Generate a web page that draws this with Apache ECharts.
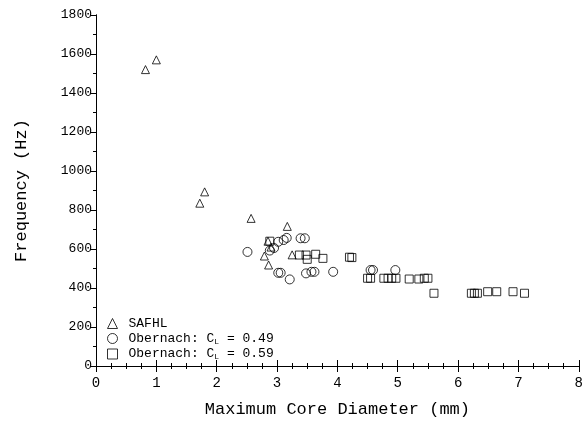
<!DOCTYPE html>
<html><head><meta charset="utf-8">
<script src="https://cdn.jsdelivr.net/npm/echarts@6/dist/echarts.min.js"></script>
<style>html,body{margin:0;padding:0;background:#fff}#c{width:586px;height:431px}</style>
</head><body><div id="c"></div>
<script>
const safhl = [[0.82,1520],[1.0,1570],[1.72,835],[1.8,893],[2.57,757],[2.79,564],[2.86,518],[2.85,640],[2.9,610],[3.17,716],[3.25,570]];
const obern49 = [[2.51,585],[2.88,592],[2.95,605],[3.02,637],[3.11,646],[3.16,657],[3.39,655],[3.46,655],[3.02,478],[3.06,478],[3.21,444],[3.48,475],[3.57,483],[3.62,483],[3.93,483],[4.55,492],[4.59,492],[4.96,492]];
const obern59 = [[2.88,640],[3.37,569],[3.48,569],[3.5,547],[3.64,573],[3.76,552],[4.2,558],[4.24,556],[4.5,450],[4.55,450],[4.77,450],[4.84,450],[4.9,450],[4.97,450],[5.19,446],[5.35,446],[5.44,450],[5.5,450],[5.6,373],[6.22,373],[6.27,373],[6.32,373],[6.49,381],[6.64,381],[6.91,381],[7.1,373]];
const xTitle = 'Maximum Core Diameter (mm)';
const yTitle = 'Frequency (Hz)';
const FONT = 'Liberation Mono';
const chart = echarts.init(document.getElementById('c'));
const sym = {color:'rgba(0,0,0,0)', borderColor:'#000', borderWidth:1};
chart.setOption({
  animation:false,
  textStyle:{fontFamily:FONT, color:'#000'},
  grid:{left:96, right:3, top:15, bottom:65},
  legend:{
    orient:'vertical', left:102, top:312, itemGap:2, itemWidth:10, itemHeight:10,
    itemStyle:{borderWidth:1},
    textStyle:{fontFamily:FONT, fontSize:13, color:'#000', padding:[0,0,0,6],
      rich:{sub:{fontFamily:FONT, fontSize:8, verticalAlign:'bottom', padding:[6,0,0,0], color:'#000'}}},
    formatter:function(n){
      if(n==='SAFHL') return 'SAFHL';
      return n.replace('C_L','C{sub|L}');
    },
    data:['SAFHL','Obernach: C_L = 0.49','Obernach: C_L = 0.59']
  },
  xAxis:[{
    type:'value', min:0, max:8, interval:1,
    axisLine:{lineStyle:{color:'#000',width:1}},
    axisTick:{inside:true, length:6, lineStyle:{color:'#000'}},
    minorTick:{show:true, splitNumber:4, length:3, lineStyle:{color:'#000'}},
    splitLine:{show:false},
    axisLabel:{fontFamily:FONT, fontSize:14, color:'#000', margin:10},
    name:xTitle, nameLocation:'middle', nameGap:35,
    nameTextStyle:{fontFamily:FONT, fontSize:17, color:'#000'}
  },{
    type:'value', min:0, max:8, interval:1, position:'top',
    axisLine:{lineStyle:{color:'#000',width:1}},
    axisTick:{inside:true, length:6, lineStyle:{color:'#000'}},
    minorTick:{show:true, splitNumber:4, length:3, lineStyle:{color:'#000'}},
    splitLine:{show:false}, axisLabel:{show:false}
  }],
  yAxis:[{
    type:'value', min:0, max:1800, interval:200,
    axisLine:{lineStyle:{color:'#000',width:1}},
    axisTick:{inside:false, length:6, lineStyle:{color:'#000'}},
    minorTick:{show:true, splitNumber:2, length:3, lineStyle:{color:'#000'}},
    splitLine:{show:false},
    axisLabel:{fontFamily:FONT, fontSize:13, color:'#000', margin:4, formatter:function(v){return String(v);}},
    name:yTitle, nameLocation:'middle', nameGap:66, nameRotate:90,
    nameTextStyle:{fontFamily:FONT, fontSize:17, color:'#000'}
  },{
    type:'value', min:0, max:1800, interval:200, position:'right',
    axisLine:{show:true, lineStyle:{color:'#000',width:1}},
    axisTick:{show:true, inside:true, length:6, lineStyle:{color:'#000'}},
    minorTick:{show:true, splitNumber:2, length:3, lineStyle:{color:'#000'}},
    splitLine:{show:false}, axisLabel:{show:false}
  }],
  series:[
    {name:'SAFHL', type:'scatter', symbol:'triangle', symbolSize:8, itemStyle:sym, data:safhl},
    {name:'Obernach: C_L = 0.49', type:'scatter', symbol:'circle', symbolSize:9, itemStyle:sym, data:obern49},
    {name:'Obernach: C_L = 0.59', type:'scatter', symbol:'rect', symbolSize:8, itemStyle:sym, data:obern59}
  ]
});
</script></body></html>
